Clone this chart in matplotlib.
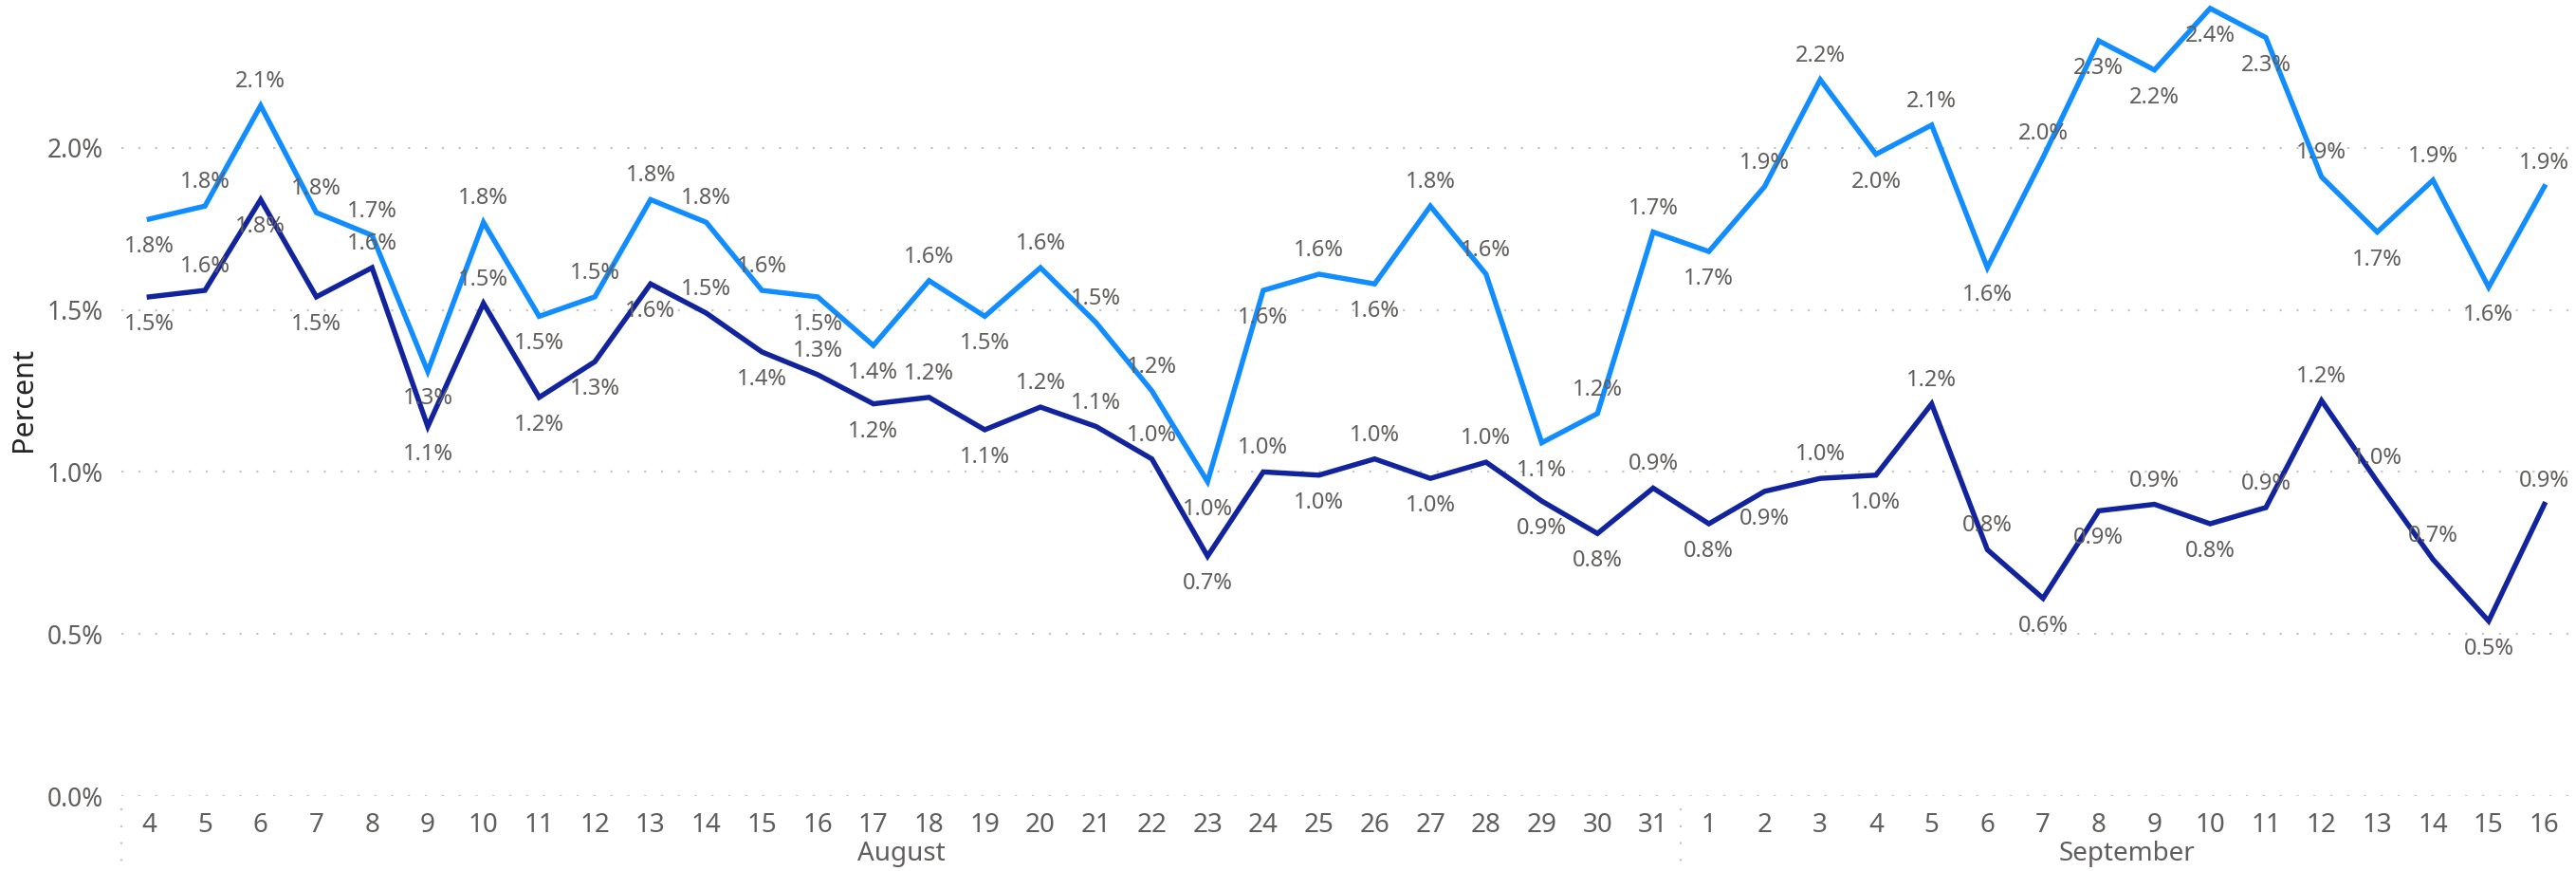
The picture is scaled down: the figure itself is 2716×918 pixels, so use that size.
import numpy as np
import matplotlib.pyplot as plt
import matplotlib.transforms as mtransforms

# day-of-month categories, Aug 4 .. Sep 16
days = list(range(4, 32)) + list(range(1, 17))
months = ['August'] * 28 + ['September'] * 16

# values in percent
light = [1.78, 1.82, 2.13, 1.80, 1.73, 1.31, 1.77, 1.48, 1.54, 1.84, 1.77, 1.56, 1.54,
         1.39, 1.59, 1.48, 1.63, 1.46, 1.25, 0.97, 1.56, 1.61, 1.58, 1.82, 1.61, 1.09, 1.18, 1.74,
         1.68, 1.88, 2.21, 1.98, 2.07, 1.63, 1.97, 2.33, 2.24, 2.43, 2.34, 1.91, 1.74, 1.90, 1.57, 1.88]
dark = [1.54, 1.56, 1.84, 1.54, 1.63, 1.14, 1.52, 1.23, 1.34, 1.58, 1.49, 1.37, 1.30,
        1.21, 1.23, 1.13, 1.20, 1.14, 1.04, 0.74, 1.00, 0.99, 1.04, 0.98, 1.03, 0.91, 0.81, 0.95,
        0.84, 0.94, 0.98, 0.99, 1.21, 0.76, 0.61, 0.88, 0.90, 0.84, 0.89, 1.22, 0.97, 0.73, 0.54, 0.90]

# label placement: 'a' above the point, 'b' below
light_pos = list('baaaababaaaab' + 'babaaabbabaabaa' + 'baababa' + 'bbbb' + 'ababa')
dark_pos = list('babbababbbaba' + 'babaaababababba' + 'bbabaabbabaaaaba')

C_LIGHT = '#118DFF'
C_DARK = '#12239E'
GREY = '#605E5C'

plt.rcParams['font.family'] = ['Noto Sans', 'DejaVu Sans']

fig = plt.figure(figsize=(27.16, 9.18), dpi=100)
ax = fig.add_axes([128 / 2716, 79 / 918, (2712 - 128) / 2716, (916 - 79) / 918])

x = np.arange(len(days))
ax.plot(x, light, color=C_LIGHT, lw=3.9, solid_joinstyle='miter', zorder=3)
ax.plot(x, dark, color=C_DARK, lw=3.9, solid_joinstyle='miter', zorder=3)

for vals, pos in ((light, light_pos), (dark, dark_pos)):
    for i, v in enumerate(vals):
        dy = 25 if pos[i] == 'a' else -29
        ax.annotate(f'{v:.1f}%', (i, v), xytext=(0, dy), textcoords='offset pixels',
                    ha='center', va='center', fontsize=17, color=GREY, zorder=4)

ax.set_xlim(-0.5, len(days) - 0.5)
ax.set_ylim(0, 2.45)
ax.set_yticks([0, 0.5, 1.0, 1.5, 2.0])
ax.set_yticklabels([f'{t:.1f}%' for t in [0, 0.5, 1.0, 1.5, 2.0]])
ax.set_xticks(x)
ax.set_xticklabels([str(d) for d in days])
ax.tick_params(axis='both', length=0, colors=GREY, labelsize=20)
ax.tick_params(axis='x', pad=12)
ax.tick_params(axis='y', pad=14, labelsize=19)
for s in ax.spines.values():
    s.set_visible(False)
ax.grid(axis='y', color='#C8C6C4', lw=1.6, linestyle=(0, (1, 7)))
ax.set_axisbelow(True)
ax.set_ylabel('Percent', fontsize=22, color='#252423', labelpad=7)

# month labels and separators
trans = mtransforms.blended_transform_factory(ax.transData, ax.transAxes)
month_names = []
for m in months:
    if m not in month_names:
        month_names.append(m)
for m in month_names:
    idx = [i for i, mm in enumerate(months) if mm == m]
    ax.text((idx[0] + idx[-1]) / 2, -0.073, m, transform=trans, ha='center', va='center',
            fontsize=20, color=GREY)
    ax.plot([idx[0] - 0.5, idx[0] - 0.5], [-0.016, -0.095], transform=trans, clip_on=False,
            color='#C8C6C4', lw=1.6, linestyle=(0, (1, 7)))

fig.savefig('out.png', dpi=100)
